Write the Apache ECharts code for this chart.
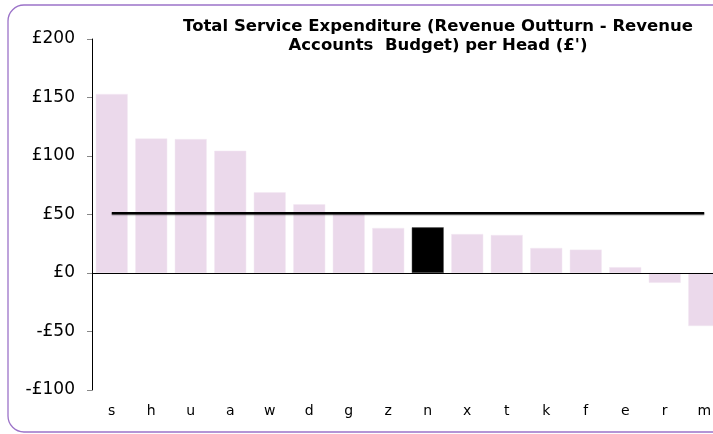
<!DOCTYPE html>
<html>
<head>
<meta charset="utf-8">
<script src="https://cdn.jsdelivr.net/npm/echarts@6/dist/echarts.min.js"></script>
<style>
  html, body { margin: 0; padding: 0; background: #fff; }
  #main { width: 713px; height: 434px; }
</style>
</head>
<body>
<div id="main"></div>
<script>
// categories and values
var categories = ["s", "h", "u", "a", "w", "d", "g", "z", "n", "x", "t", "k", "f", "e", "r", "m"];
var spend = [153, 115, 114.5, 104.5, 69, 58.7, 50.5, 38.5, 39, 33.3, 32.5, 21.4, 20, 5, -8.4, -45.3];
var average = [51, 51, 51, 51, 51, 51, 51, 51, 51, 51, 51, 51, 51, 51, 51, 51];
var highlight = "n";
var yTicks = [-100, 200, 50]; // min, max, step

var myChart = echarts.init(document.getElementById("main"));

var barData = spend.map(function (v, i) {
  if (categories[i] === highlight) {
    return { value: v, itemStyle: { color: "#000000", borderColor: "#555555" } };
  }
  return v;
});

// outer frame: only the left part is on the page
var frameStyle = { fill: "none", stroke: "#9b72c8", lineWidth: 1.3 };
var frame = [
  { type: "polyline", shape: { points: [[24, 5], [740, 5]] }, style: frameStyle, silent: true },
  { type: "polyline", shape: { points: [[8, 21], [8, 416]] }, style: frameStyle, silent: true },
  { type: "polyline", shape: { points: [[24, 432], [740, 432]] }, style: frameStyle, silent: true },
  { type: "arc", shape: { cx: 24, cy: 21, r: 16, startAngle: Math.PI, endAngle: Math.PI * 1.5 }, style: frameStyle, silent: true },
  { type: "arc", shape: { cx: 24, cy: 416, r: 16, startAngle: Math.PI * 0.5, endAngle: Math.PI }, style: frameStyle, silent: true }
];

myChart.setOption({
  animation: false,
  textStyle: { fontFamily: "DejaVu Sans" },
  title: {
    text: "Total Service Expenditure (Revenue Outturn - Revenue\nAccounts  Budget) per Head (£')",
    left: 433,
    top: 12,
    textAlign: "center",
    textStyle: {
      fontFamily: "DejaVu Sans",
      fontWeight: "bold",
      fontSize: 16.5,
      lineHeight: 19,
      color: "#000"
    }
  },
  graphic: frame,
  grid: {
    left: 92,
    width: 632,
    top: 39,
    bottom: 44,
    outerBoundsMode: "none"
  },
  xAxis: {
    type: "category",
    data: categories,
    axisLine: { show: false },
    axisTick: { show: false },
    axisLabel: {
      fontSize: 14,
      color: "#000",
      margin: 14
    }
  },
  yAxis: {
    type: "value",
    min: yTicks[0],
    max: yTicks[1],
    interval: yTicks[2],
    axisLine: { show: true, lineStyle: { color: "#000", width: 1 } },
    axisTick: { show: true, length: 5, lineStyle: { color: "#888" } },
    splitLine: { show: false },
    axisLabel: {
      fontSize: 17,
      color: "#000",
      margin: 17,
      formatter: function (v) {
        return (v < 0 ? "-" : "") + "£" + Math.abs(v);
      }
    }
  },
  series: [
    {
      name: "Spend per head",
      type: "bar",
      data: barData,
      barCategoryGap: "19%",
      itemStyle: { color: "#ebd9eb", borderColor: "#f3e8f3", borderWidth: 0.5 },
      markLine: {
        silent: true,
        symbol: "none",
        label: { show: false },
        lineStyle: { color: "#000", width: 1, type: "solid" },
        data: [{ yAxis: 0 }]
      }
    },
    {
      name: "Average",
      type: "line",
      data: average,
      symbol: "none",
      lineStyle: {
        color: "#000",
        width: 2.5,
        shadowColor: "rgba(0,0,0,0.3)",
        shadowOffsetY: 1,
        shadowBlur: 1
      },
      z: 5
    }
  ]
});
</script>
</body>
</html>
